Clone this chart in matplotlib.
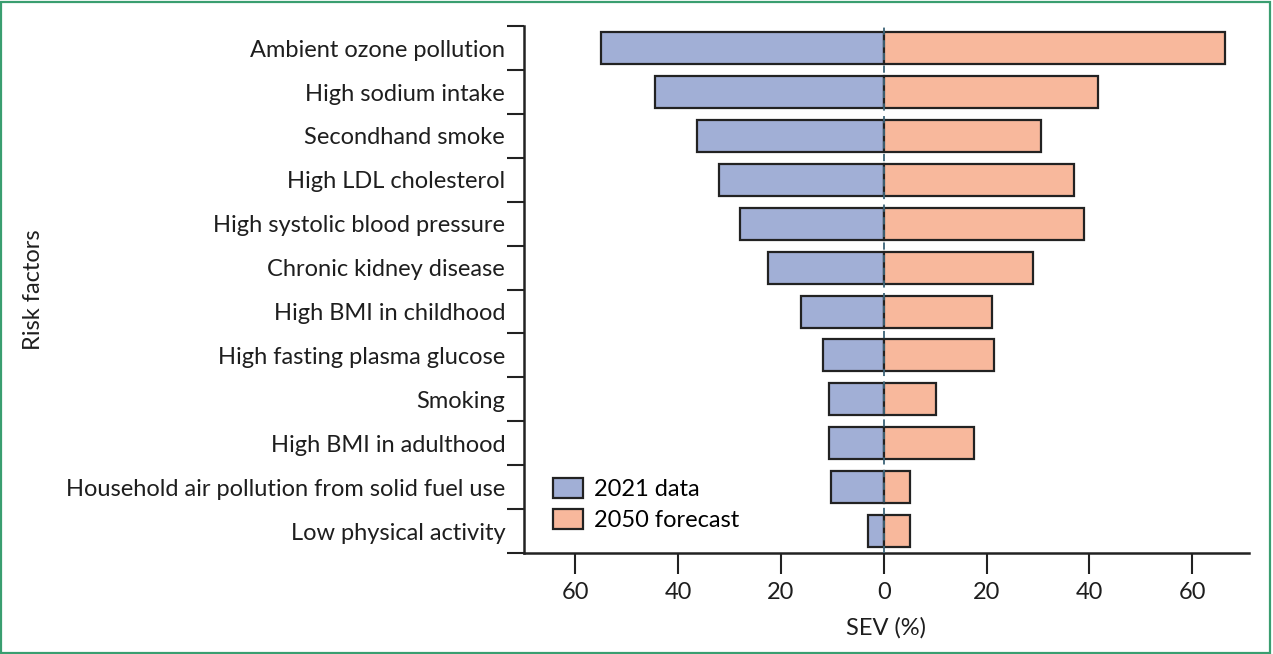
import numpy as np
import matplotlib
matplotlib.use("Agg")
import matplotlib.pyplot as plt
from matplotlib.patches import Patch, Rectangle

plt.rcParams['font.family'] = ['Lato', 'DejaVu Sans']

# risk factors, top to bottom
factors = ["Ambient ozone pollution", "High sodium intake", "Secondhand smoke",
           "High LDL cholesterol", "High systolic blood pressure",
           "Chronic kidney disease", "High BMI in childhood",
           "High fasting plasma glucose", "Smoking", "High BMI in adulthood",
           "Household air pollution from solid fuel use", "Low physical activity"]
# SEV (%) values
sev_2021 = [55.1, 44.5, 36.3, 32.1, 27.9, 22.5, 16.1, 11.9, 10.7, 10.7, 10.3, 3.1]
sev_2050 = [66.3, 41.7, 30.6, 37.0, 38.9, 29.1, 21.1, 21.5, 10.2, 17.6, 5.0, 5.0]
xticks = [-60, -40, -20, 0, 20, 40, 60]

blue = '#a1afd6'
orange = '#f8b89c'
edge = '#222222'
fs = 17

fig = plt.figure(figsize=(12.73, 6.54), dpi=100)
ax = fig.add_axes([0.4116, 0.1544, 0.5694, 0.8056])

y = np.arange(len(factors))
ax.barh(y, -np.array(sev_2021), height=0.73, color=blue, edgecolor=edge, linewidth=1.6, label='2021 data')
ax.barh(y, sev_2050, height=0.73, color=orange, edgecolor=edge, linewidth=1.6, label='2050 forecast')
ax.axvline(0, color='#3e6478', linestyle=(0, (4, 3)), linewidth=1.3, zorder=3)

ax.set_xlim(-70, 71)
ax.set_ylim(len(factors) - 0.5, -0.5)

ax.set_yticks(y)
ax.set_yticklabels(factors, fontsize=fs, color='#1e1e1e')
ax.set_yticks(np.arange(-0.5, len(factors), 1.0), minor=True)
ax.tick_params(axis='y', which='major', length=0, pad=13.5)
ax.tick_params(axis='y', which='minor', length=12, width=1.5, color='#222222')

ax.set_xticks(xticks)
ax.set_xticklabels([str(abs(v)) for v in xticks], fontsize=fs, color='#1e1e1e')
ax.tick_params(axis='x', length=15, width=1.5, pad=6, color='#222222')

for s in ['top', 'right']:
    ax.spines[s].set_visible(False)
for s in ['left', 'bottom']:
    ax.spines[s].set_linewidth(1.8)
    ax.spines[s].set_color('#222222')

ax.set_xlabel('SEV (%)', fontsize=fs, color='#1e1e1e', labelpad=10)
ax.set_ylabel('Risk factors', fontsize=fs, color='#1e1e1e', labelpad=16)

handles = [Patch(facecolor=blue, edgecolor=edge, linewidth=1.6, label='2021 data'),
           Patch(facecolor=orange, edgecolor=edge, linewidth=1.6, label='2050 forecast')]
ax.legend(handles=handles, loc='lower left', bbox_to_anchor=(0.04, 0.042), frameon=False,
          borderaxespad=0, borderpad=0, fontsize=fs, handlelength=1.27, handleheight=0.93,
          handletextpad=0.45, labelspacing=0.38)

# green frame round the figure
fig.patches.append(Rectangle((0.001, 0.002), 0.997, 0.995, transform=fig.transFigure,
                             fill=False, edgecolor='#3a9e70', linewidth=1.6))

fig.savefig('out.png', dpi=100)
